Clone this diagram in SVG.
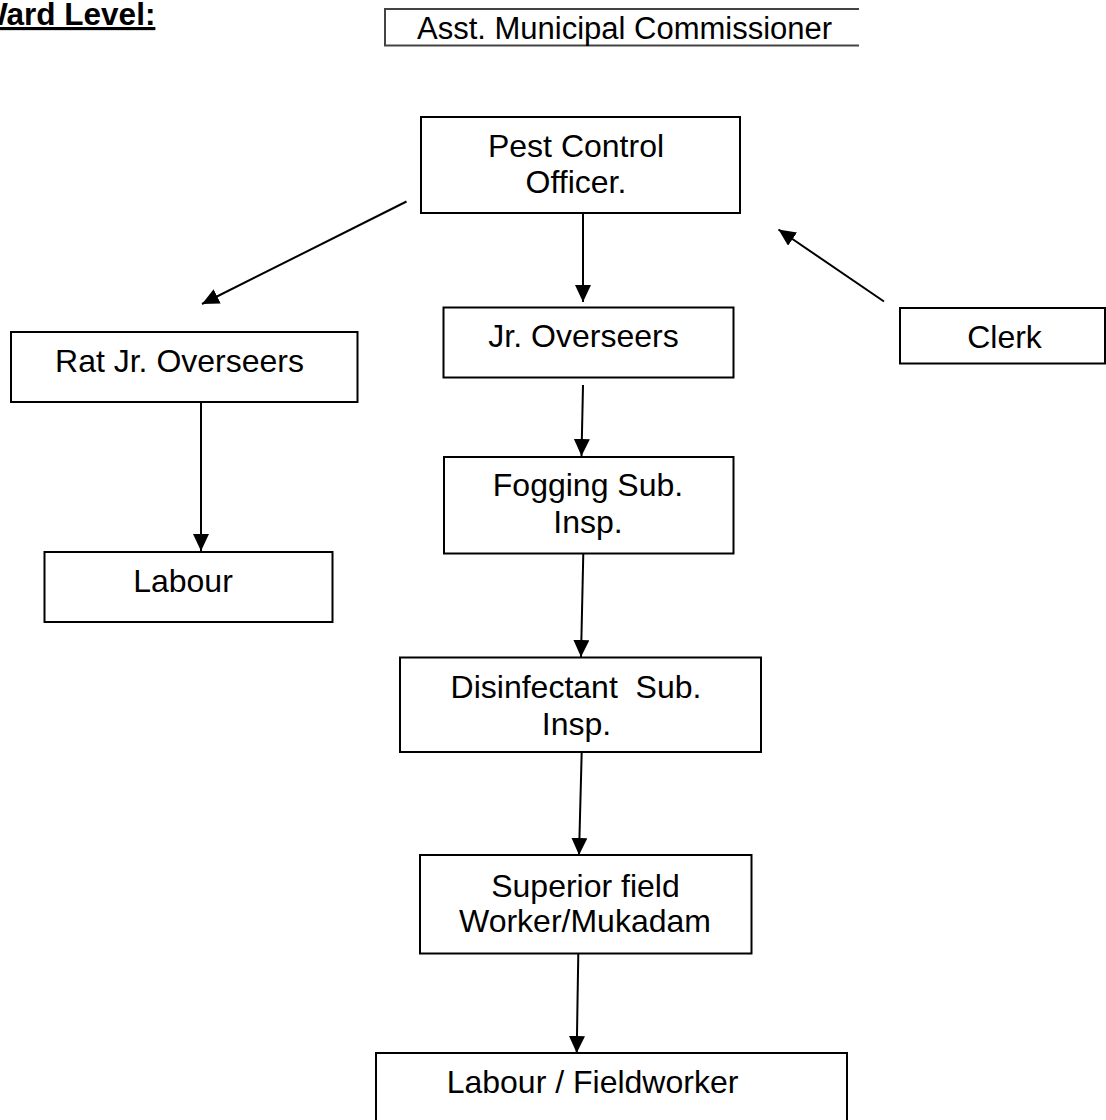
<svg xmlns="http://www.w3.org/2000/svg" width="1106" height="1120" viewBox="0 0 1106 1120">
<style>
  .box { fill: #fff; stroke: #000; stroke-width: 2; }
  .t { font-family: "Liberation Sans", Arial, sans-serif; font-size: 32px; fill: #000; text-anchor: middle; }
  .conn { stroke: #000; stroke-width: 2; fill: none; marker-end: url(#arr); }
</style>
<defs>
  <marker id="arr" markerUnits="userSpaceOnUse" markerWidth="18" markerHeight="17" refX="17" refY="8" orient="auto">
    <path d="M0,0 L17,8 L0,16 z" fill="#000"/>
  </marker>
</defs>
<rect width="1106" height="1120" fill="#fff"/>

<g id="title">
  <text x="-22" y="25" style="font-family:'Liberation Sans',Arial,sans-serif;font-size:31.5px;font-weight:bold;text-decoration:underline">Ward Level:</text>
</g>

<g id="asst">
  <path d="M859,9 H385 V45.5 H859" fill="none" stroke="#444" stroke-width="2"/>
  <text x="417" y="39" style="font-family:'Liberation Sans',Arial,sans-serif;font-size:31px">Asst. Municipal Commissioner</text>
</g>

<g id="pest">
  <rect class="box" x="421" y="117" width="319" height="96"/>
  <text class="t" x="576" y="157">Pest Control</text>
  <text class="t" x="576" y="193">Officer.</text>
</g>

<g id="jr">
  <rect class="box" x="443.5" y="307.5" width="290" height="70"/>
  <text class="t" x="583.5" y="347">Jr. Overseers</text>
</g>

<g id="rat">
  <rect class="box" x="11" y="332" width="346.5" height="70"/>
  <text class="t" x="179.5" y="372">Rat Jr. Overseers</text>
</g>

<g id="labour">
  <rect class="box" x="44.5" y="552" width="288" height="70"/>
  <text class="t" x="183" y="592">Labour</text>
</g>

<g id="clerk">
  <rect class="box" x="900" y="308" width="205" height="55.5"/>
  <text class="t" x="1004.5" y="347.5">Clerk</text>
</g>

<g id="fogging">
  <rect class="box" x="444" y="457" width="289.5" height="96.5"/>
  <text class="t" x="588" y="496">Fogging Sub.</text>
  <text class="t" x="588" y="533">Insp.</text>
</g>

<g id="disinfectant">
  <rect class="box" x="400" y="657.5" width="361" height="94.5"/>
  <text class="t" x="576" y="698" style="white-space:pre">Disinfectant  Sub.</text>
  <text class="t" x="576.5" y="735">Insp.</text>
</g>

<g id="superior">
  <rect class="box" x="420" y="855" width="331.5" height="98.5"/>
  <text class="t" x="585.5" y="897">Superior field</text>
  <text class="t" x="585" y="932">Worker/Mukadam</text>
</g>

<g id="fieldworker">
  <rect class="box" x="376" y="1053" width="471" height="80"/>
  <text class="t" x="592.5" y="1093">Labour / Fieldworker</text>
</g>

<g id="connectors">
  <line class="conn" x1="583" y1="213" x2="583" y2="302"/>
  <line class="conn" x1="406.5" y1="201.5" x2="202" y2="304"/>
  <line class="conn" x1="884" y1="301.5" x2="778.5" y2="229.5"/>
  <line class="conn" x1="201" y1="402" x2="201" y2="551"/>
  <line class="conn" x1="583" y1="385" x2="581.5" y2="456"/>
  <line class="conn" x1="583.3" y1="553.5" x2="581" y2="657"/>
  <line class="conn" x1="581.7" y1="752" x2="579" y2="855"/>
  <line class="conn" x1="578.3" y1="953.5" x2="576.7" y2="1053"/>
</g>
</svg>
